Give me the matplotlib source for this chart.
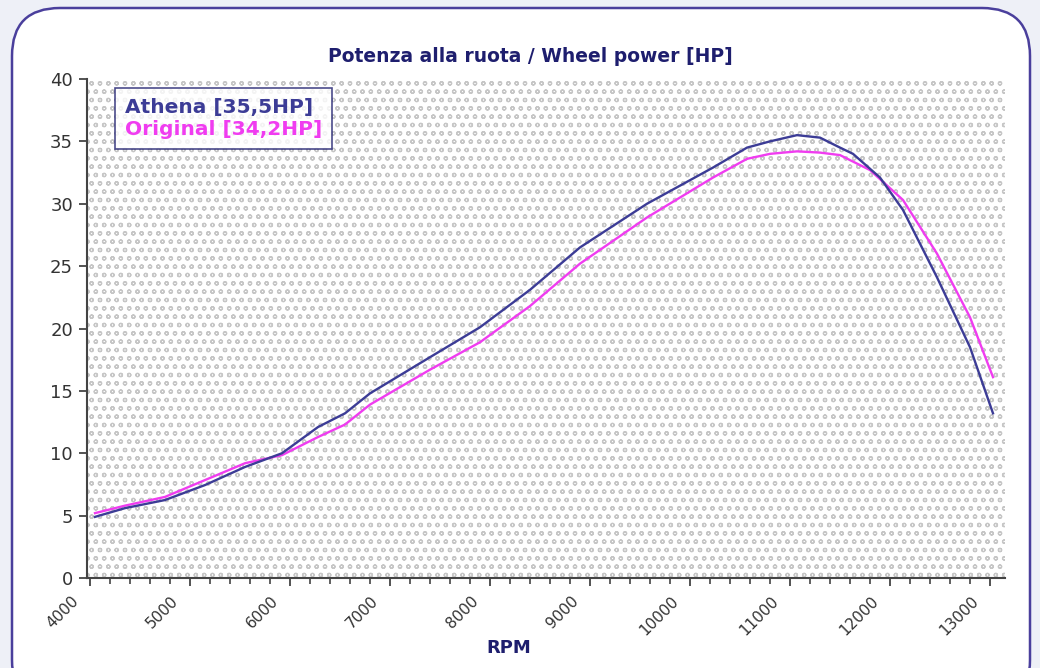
import matplotlib
matplotlib.use("Agg")
import matplotlib.pyplot as plt
import matplotlib.transforms as mtransforms
from matplotlib.patches import FancyBboxPatch, Rectangle
from matplotlib.ticker import MultipleLocator

plt.rcParams['font.family'] = ['DejaVu Sans']
plt.rcParams['hatch.linewidth'] = 0.9

# values
athena_rpm = [4050, 4350, 4750, 5150, 5550, 5920, 6280, 6550, 6800, 7400, 7900,
              8400, 8900, 9570, 10230, 10570, 10800, 11070, 11300, 11500, 11630,
              11900, 12130, 12470, 12800, 13030]
athena_hp = [4.9, 5.6, 6.25, 7.45, 8.9, 10.0, 12.1, 13.2, 14.8, 17.7, 20.1,
             23.1, 26.5, 30.0, 32.9, 34.5, 35.0, 35.5, 35.3, 34.5, 34.0,
             32.1, 29.5, 24.1, 18.5, 13.2]

orig_rpm = [4050, 4350, 4750, 5150, 5550, 5920, 6280, 6550, 6800, 7400, 7900,
            8400, 8900, 9570, 10230, 10570, 10800, 11070, 11300, 11500, 11800,
            12130, 12470, 12800, 13030]
orig_hp = [5.2, 5.8, 6.5, 7.85, 9.2, 9.85, 11.3, 12.3, 13.9, 16.7, 18.9,
           21.8, 25.2, 28.9, 32.1, 33.6, 34.0, 34.2, 34.1, 33.9, 32.7,
           30.3, 26.0, 20.9, 16.1]

labels = ['Athena [35,5HP]', 'Original [34,2HP]']
colors = ['#3c3c96', '#f03cf0']
navy = '#1e1e6e'

fig = plt.figure(figsize=(10.4, 6.68), dpi=100)
fig.patch.set_facecolor('#eef0f7')

# rounded white card behind everything, in pixel units
back = fig.add_axes([0, 0, 1, 1], zorder=-5)
back.set_xlim(0, 1040)
back.set_ylim(0, 668)
back.axis('off')
back.add_patch(FancyBboxPatch((12, -40), 1018, 700,
                              boxstyle="round,pad=0,rounding_size=48",
                              facecolor='white', edgecolor='#4a3f9c', linewidth=1.8))

ax = fig.add_axes([87 / 1040, 90 / 668, 918 / 1040, 499 / 668])
ax.patch.set_alpha(0)
bg = Rectangle((0, 0), 1, 1, transform=ax.transAxes, facecolor='white',
               edgecolor='#c6c6c6', linewidth=0, hatch='oo', zorder=0)
ax.add_patch(bg)

ax.plot(orig_rpm, orig_hp, color=colors[1], lw=1.7, label=labels[1], zorder=3)
ax.plot(athena_rpm, athena_hp, color=colors[0], lw=1.7, label=labels[0], zorder=4)

ax.set_xlim(3970, 13150)
ax.set_ylim(0, 40)
ax.xaxis.set_major_locator(MultipleLocator(1000))
ax.xaxis.set_minor_locator(MultipleLocator(200))
ax.yaxis.set_major_locator(MultipleLocator(5))

for s in ['top', 'right']:
    ax.spines[s].set_visible(False)
for s in ['left', 'bottom']:
    ax.spines[s].set_color('#444444')
    ax.spines[s].set_linewidth(1.5)

ax.tick_params(axis='both', which='major', direction='out', length=6, width=1.3,
               color='#444444')
ax.tick_params(axis='x', which='minor', direction='out', length=4, width=1.2,
               color='#444444')
ax.tick_params(axis='y', labelsize=13, labelcolor='#333333', pad=4)
ax.tick_params(axis='x', labelsize=11, labelcolor='#333333', pad=5)
shift = mtransforms.ScaledTranslation(-14 / 72, 0, fig.dpi_scale_trans)
for lab in ax.get_xticklabels():
    lab.set_rotation(45)
    lab.set_ha('right')
    lab.set_rotation_mode('anchor')
    lab.set_transform(lab.get_transform() + shift)

ax.set_title('Potenza alla ruota / Wheel power [HP]', fontsize=13.5,
             fontweight='bold', color=navy, pad=12, x=0.4826)
ax.set_xlabel('RPM', fontsize=13, fontweight='bold', color=navy)
ax.xaxis.set_label_coords(0.459, -0.122)

handles, labs = ax.get_legend_handles_labels()
order = [1, 0]
leg = ax.legend([handles[i] for i in order], [labs[i] for i in order],
                loc='upper left', bbox_to_anchor=(0.03, 0.982),
                handlelength=0, handletextpad=0,
                frameon=True, fancybox=False, borderpad=0.5, labelspacing=0.15,
                borderaxespad=0, prop={'weight': 'bold', 'size': 14.5})
leg.get_frame().set_edgecolor(navy)
leg.get_frame().set_linewidth(1.2)
for h in leg.legend_handles:
    h.set_visible(False)
for txt, c in zip(leg.get_texts(), colors):
    txt.set_color(c)

fig.savefig('out.png', dpi=100, facecolor=fig.get_facecolor())
